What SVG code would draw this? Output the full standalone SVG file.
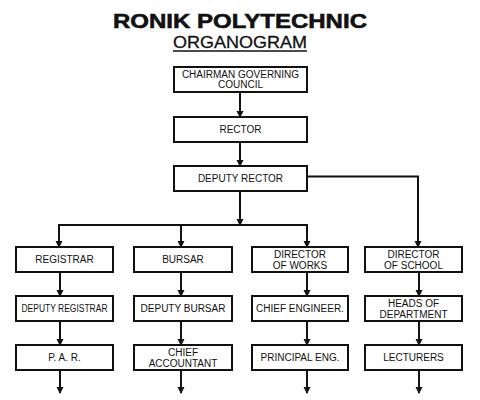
<svg xmlns="http://www.w3.org/2000/svg" width="480" height="400" viewBox="0 0 480 400">
<style>
.box{fill:#fff;stroke:#111;stroke-width:2}
.t{font-family:"Liberation Sans",Arial,sans-serif;font-size:10px;fill:#111;text-anchor:middle}
.c{fill:none;stroke:#111;stroke-width:2}
</style>
<defs>
<marker id="ah" markerUnits="userSpaceOnUse" markerWidth="8" markerHeight="8" refX="6" refY="3.5" orient="auto">
<path d="M0,0 L7,3.5 L0,7 z" fill="#111"/>
</marker>
</defs>
<rect width="480" height="400" fill="#fff"/>
<g id="title">
<text x="240" y="28" font-family="'Liberation Sans',Arial,sans-serif" font-size="21" font-weight="bold" text-anchor="middle" textLength="254" lengthAdjust="spacingAndGlyphs" fill="#111" stroke="#111" stroke-width="0.6">RONIK POLYTECHNIC</text>
<text x="240" y="48" font-family="'Liberation Sans',Arial,sans-serif" font-size="17" text-anchor="middle" textLength="134" lengthAdjust="spacingAndGlyphs" fill="#111" stroke="#111" stroke-width="0.3">ORGANOGRAM</text>
<line x1="173" y1="51" x2="307" y2="51" stroke="#111" stroke-width="1.5"/>
</g>
<g id="connectors">
<path class="c" d="M240,92 V117" marker-end="url(#ah)"/>
<path class="c" d="M240,142 V166" marker-end="url(#ah)"/>
<path class="c" d="M240,191 V225" marker-end="url(#ah)"/>
<path class="c" d="M307,176.5 H418 V247" marker-end="url(#ah)"/>
<path class="c" d="M59,247 V225 H307 V247" marker-end="url(#ah)"/>
<path class="c" d="M59,225 V247" marker-end="url(#ah)"/>
<path class="c" d="M181,225 V247" marker-end="url(#ah)"/>
<path class="c" d="M60,272 V296" marker-end="url(#ah)"/>
<path class="c" d="M181,272 V296" marker-end="url(#ah)"/>
<path class="c" d="M307,272 V296" marker-end="url(#ah)"/>
<path class="c" d="M419,272 V296" marker-end="url(#ah)"/>
<path class="c" d="M60,321 V345" marker-end="url(#ah)"/>
<path class="c" d="M181,321 V345" marker-end="url(#ah)"/>
<path class="c" d="M307,321 V345" marker-end="url(#ah)"/>
<path class="c" d="M419,321 V345" marker-end="url(#ah)"/>
<path class="c" d="M60,370 V393" marker-end="url(#ah)"/>
<path class="c" d="M181,370 V393" marker-end="url(#ah)"/>
<path class="c" d="M307,370 V393" marker-end="url(#ah)"/>
<path class="c" d="M419,370 V393" marker-end="url(#ah)"/>
</g>
<g id="chairman"><rect class="box" x="174" y="67" width="133" height="25"/><text class="t" x="240.5" y="77.5">CHAIRMAN GOVERNING</text><text class="t" x="240.5" y="88">COUNCIL</text></g>
<g id="rector"><rect class="box" x="174" y="117" width="133" height="25"/><text class="t" x="240.5" y="133">RECTOR</text></g>
<g id="deputy-rector"><rect class="box" x="174" y="166" width="133" height="25"/><text class="t" x="240.5" y="182">DEPUTY RECTOR</text></g>
<g id="registrar"><rect class="box" x="16" y="247" width="97" height="25"/><text class="t" x="64.5" y="263">REGISTRAR</text></g>
<g id="bursar"><rect class="box" x="134" y="247" width="98" height="25"/><text class="t" x="183" y="263">BURSAR</text></g>
<g id="director-works"><rect class="box" x="252" y="247" width="96" height="25"/><text class="t" x="300" y="258">DIRECTOR</text><text class="t" x="300" y="268.5">OF WORKS</text></g>
<g id="director-school"><rect class="box" x="365" y="247" width="97" height="25"/><text class="t" x="413.5" y="258">DIRECTOR</text><text class="t" x="413.5" y="268.5">OF SCHOOL</text></g>
<g id="deputy-registrar"><rect class="box" x="16" y="296" width="97" height="25"/><text class="t" x="64.5" y="312" textLength="86" lengthAdjust="spacingAndGlyphs">DEPUTY REGISTRAR</text></g>
<g id="deputy-bursar"><rect class="box" x="134" y="296" width="98" height="25"/><text class="t" x="183" y="312">DEPUTY BURSAR</text></g>
<g id="chief-engineer"><rect class="box" x="252" y="296" width="96" height="25"/><text class="t" x="300" y="312">CHIEF ENGINEER.</text></g>
<g id="heads-dept"><rect class="box" x="365" y="296" width="97" height="25"/><text class="t" x="413.5" y="307">HEADS OF</text><text class="t" x="413.5" y="317.5">DEPARTMENT</text></g>
<g id="par"><rect class="box" x="16" y="345" width="97" height="25"/><text class="t" x="64.5" y="361">P. A. R.</text></g>
<g id="chief-accountant"><rect class="box" x="134" y="345" width="98" height="25"/><text class="t" x="183" y="356">CHIEF</text><text class="t" x="183" y="366.5">ACCOUNTANT</text></g>
<g id="principal-eng"><rect class="box" x="252" y="345" width="96" height="25"/><text class="t" x="300" y="361">PRINCIPAL ENG.</text></g>
<g id="lecturers"><rect class="box" x="365" y="345" width="97" height="25"/><text class="t" x="413.5" y="361">LECTURERS</text></g>
</svg>
